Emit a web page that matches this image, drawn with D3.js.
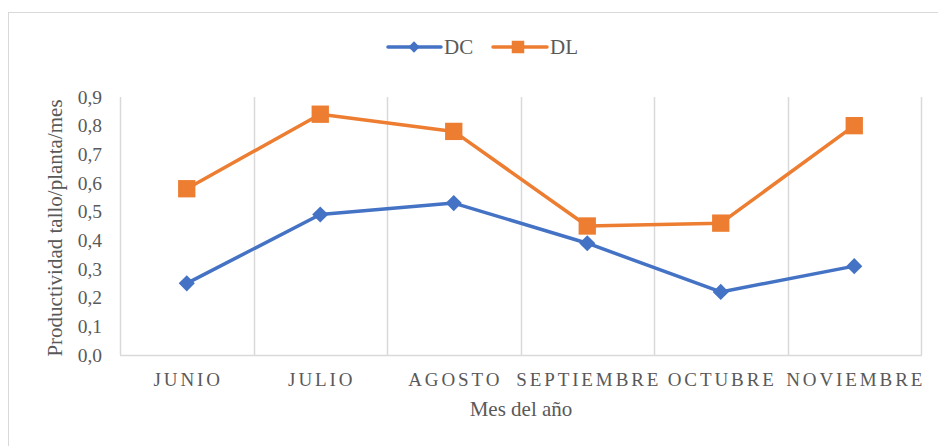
<!DOCTYPE html>
<html><head><meta charset="utf-8">
<script src="https://cdn.jsdelivr.net/npm/d3@7"></script>
<style>body{margin:0;background:#fff}svg{display:block}</style>
</head><body>
<svg id="c" width="938" height="446"></svg>
<script>
const categories = ["JUNIO","JULIO","AGOSTO","SEPTIEMBRE","OCTUBRE","NOVIEMBRE"];
const dcValues = [0.25, 0.49, 0.53, 0.39, 0.22, 0.31];
const dlValues = [0.58, 0.84, 0.78, 0.45, 0.46, 0.80];
const yTicks = [0,0.1,0.2,0.3,0.4,0.5,0.6,0.7,0.8,0.9];
const seriesNames = ["DC","DL"];
const colors = ["#4472C4","#ED7D31"];

const FONT = '"Liberation Serif","Times New Roman",serif';
const svg = d3.select("#c");
svg.append("rect").attr("x",8.5).attr("y",12.5).attr("width",940).attr("height",440)
  .attr("fill","#fff").attr("stroke","#d9d9d9").attr("stroke-width",1);

const L=120, R=921, T=97, B=355;
const x = d3.scaleBand().domain(categories).range([L,R]).paddingInner(0).paddingOuter(0);
const y = d3.scaleLinear().domain([0,0.9]).range([B,T]);

const bounds = categories.map(c=>x(c)).concat([R]);
svg.append("g").selectAll("line").data(bounds.slice(1)).join("line")
  .attr("x1",d=>Math.round(d)+0.5).attr("x2",d=>Math.round(d)+0.5).attr("y1",T).attr("y2",B)
  .attr("stroke","#d9d9d9").attr("stroke-width",1.5);
svg.append("line").attr("x1",L+0.5).attr("x2",L+0.5).attr("y1",T).attr("y2",B).attr("stroke","#d9d9d9").attr("stroke-width",1.5);
svg.append("line").attr("x1",L).attr("x2",R+1).attr("y1",B+0.5).attr("y2",B+0.5).attr("stroke","#d9d9d9").attr("stroke-width",1.5);

const fmt = d => d3.format(".1f")(d).replace(".",",");
svg.append("g").selectAll("text").data(yTicks).join("text")
  .attr("x",102).attr("y",d=>y(d)).attr("dy","0.35em").attr("text-anchor","end")
  .style("font-family",FONT).attr("font-size",19.5).attr("fill","#595959").text(fmt);

svg.append("g").selectAll("text").data(categories).join("text")
  .attr("x",d=>x(d)+x.bandwidth()/2+1.5).attr("y",386).attr("text-anchor","middle")
  .style("font-family",FONT).attr("font-size",19).attr("letter-spacing","2.9px").attr("fill","#595959").text(d=>d);

svg.append("text").attr("x",521).attr("y",416).attr("text-anchor","middle")
  .style("font-family",FONT).attr("font-size",21).attr("fill","#595959").text("Mes del año");
svg.append("text").attr("transform","translate(62,228) rotate(-90)").attr("text-anchor","middle")
  .style("font-family",FONT).attr("font-size",21).attr("fill","#595959").text("Productividad tallo/planta/mes");

const cx = c => x(c)+x.bandwidth()/2;
const line = d3.line().x((d,i)=>cx(categories[i])).y(d=>y(d));
const series = [dcValues, dlValues];

series.forEach((vals,si)=>{
  svg.append("path").datum(vals).attr("d",line).attr("fill","none")
    .attr("stroke",colors[si]).attr("stroke-width",3.5).attr("stroke-linejoin","round");
  svg.append("g").selectAll("path").data(vals).join("path")
    .attr("d", si===0 ? d3.symbol(d3.symbolSquare, 130)() : d3.symbol(d3.symbolSquare,300)())
    .attr("transform",(d,i)=>`translate(${cx(categories[i])},${y(d)})` + (si===0?" rotate(45)":""))
    .attr("fill",colors[si]);
});

const leg = [{x0:388, x1:441, mx:414, tx:444},{x0:493, x1:547, mx:518, tx:550}];
leg.forEach((l,si)=>{
  const g = svg.append("g");
  g.append("line").attr("x1",l.x0).attr("x2",l.x1).attr("y1",47).attr("y2",47)
    .attr("stroke",colors[si]).attr("stroke-width",3.5).attr("stroke-linecap","round");
  g.append("path").attr("d", si===0 ? d3.symbol(d3.symbolSquare,64)() : d3.symbol(d3.symbolSquare,156)())
    .attr("transform",`translate(${l.mx},47)`+(si===0?" rotate(45)":"")).attr("fill",colors[si]);
  g.append("text").attr("x",l.tx).attr("y",47).attr("dy","0.35em")
    .style("font-family",FONT).attr("font-size",21).attr("fill","#595959").text(seriesNames[si]);
});
</script>
</body></html>
